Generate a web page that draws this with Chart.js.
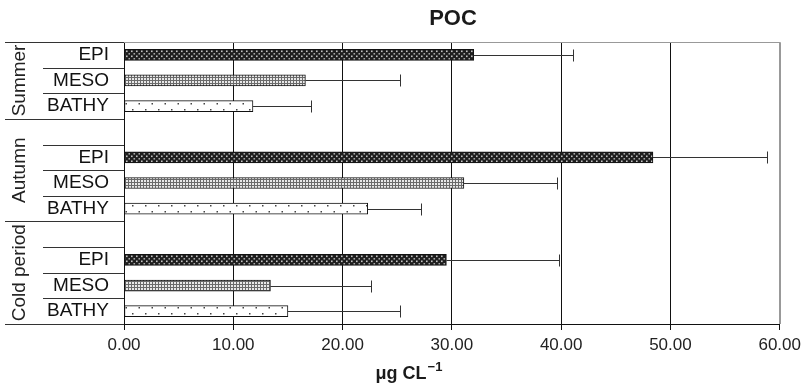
<!DOCTYPE html>
<html>
<head>
<meta charset="utf-8">
<title>POC</title>
<script src="https://cdn.jsdelivr.net/npm/chart.js@4.4.1/dist/chart.umd.min.js"></script>
<style>
  html, body { margin: 0; padding: 0; background: #fff; }
  canvas { display: block; }
</style>
</head>
<body>
<canvas id="pocChart" width="806" height="390"></canvas>
<script>
// rows of the bar chart, top to bottom ('' = spacer row)
const rowLabels = ['EPI', 'MESO', 'BATHY', '', 'EPI', 'MESO', 'BATHY', '', 'EPI', 'MESO', 'BATHY'];
const pocMean = [32.0, 16.6, 11.8, null, 48.4, 31.1, 22.3, null, 29.5, 13.4, 15.0];
const pocSd = [9.1, 8.7, 5.3, null, 10.4, 8.5, 4.9, null, 10.3, 9.2, 10.3];

// seasons and the rows they cover
const seasonNames = ['Summer', 'Autumn', 'Cold period'];
const seasonFirstRow = [0, 3, 7];
const seasonLastRow = [2, 6, 10];

const xTicks = [0, 10, 20, 30, 40, 50, 60];

const FONT = "'Liberation Sans', Arial, sans-serif";

function makePattern(w, h, draw) {
  const c = document.createElement('canvas');
  c.width = w;
  c.height = h;
  const g = c.getContext('2d');
  draw(g);
  return g.createPattern(c, 'repeat');
}

const fills = {
  EPI: makePattern(10, 5, g => {
    g.fillStyle = '#1e1e1e';
    g.fillRect(0, 0, 10, 5);
    g.fillStyle = '#c4c4c4';
    g.fillRect(1, 0.5, 1.6, 1.6);
    g.fillRect(6, 0.5, 1.6, 1.6);
    g.fillStyle = '#a8a8a8';
    g.fillRect(3.5, 3, 1.6, 1.6);
    g.fillRect(8.5, 3, 1.6, 1.6);
  }),
  MESO: makePattern(3, 3, g => {
    g.fillStyle = '#6a6a6a';
    g.fillRect(0, 0, 3, 3);
    g.fillStyle = '#e8e8e8';
    g.fillRect(0, 0, 2, 2);
  }),
  BATHY: makePattern(13, 12, g => {
    g.fillStyle = '#ffffff';
    g.fillRect(0, 0, 13, 12);
    g.fillStyle = '#444';
    g.fillRect(2, 1, 1.5, 1.5);
    g.fillRect(8.5, 7, 1.5, 1.5);
  })
};

// whiskers, label-area rules, season names, titles and frame
const decorations = {
  id: 'decorations',
  afterDatasetsDraw(chart) {
    const ctx = chart.ctx;
    const x = chart.scales.x;
    const y = chart.scales.y;

    ctx.save();
    ctx.strokeStyle = '#333';
    ctx.lineWidth = 1;
    pocMean.forEach((v, i) => {
      if (v == null) return;
      const yc = Math.round(y.getPixelForValue(i)) + 0.5;
      const x0 = x.getPixelForValue(v);
      const x1 = Math.round(x.getPixelForValue(v + pocSd[i])) + 0.5;
      ctx.beginPath();
      ctx.moveTo(x0, yc);
      ctx.lineTo(x1, yc);
      ctx.moveTo(x1, yc - 6);
      ctx.lineTo(x1, yc + 6);
      ctx.stroke();
    });
    ctx.restore();
  },
  afterDraw(chart) {
    const ctx = chart.ctx;
    const y = chart.scales.y;
    const area = chart.chartArea;
    const half = (y.getPixelForValue(1) - y.getPixelForValue(0)) / 2;

    ctx.save();
    // top and right frame
    ctx.strokeStyle = '#999';
    ctx.lineWidth = 1;
    ctx.beginPath();
    ctx.moveTo(area.left, Math.round(area.top) + 0.5);
    ctx.lineTo(Math.round(area.right) + 0.5, Math.round(area.top) + 0.5);
    ctx.lineTo(Math.round(area.right) + 0.5, area.bottom);
    ctx.stroke();

    // rules between row labels and between seasons
    ctx.strokeStyle = '#333';
    for (let i = 0; i <= rowLabels.length; i++) {
      const yy = Math.round(y.getPixelForValue(i) - half) + 0.5;
      const isSeasonEdge = i === rowLabels.length || seasonFirstRow.includes(i);
      ctx.beginPath();
      ctx.moveTo(isSeasonEdge ? 5 : 43, yy);
      ctx.lineTo(area.left, yy);
      ctx.stroke();
    }

    // season names, rotated
    ctx.fillStyle = '#222';
    ctx.font = '19px ' + FONT;
    ctx.textAlign = 'center';
    ctx.textBaseline = 'middle';
    seasonNames.forEach((name, k) => {
      const top = y.getPixelForValue(seasonFirstRow[k]) - half;
      const bottom = y.getPixelForValue(seasonLastRow[k]) + half;
      ctx.save();
      ctx.translate(19, (top + bottom) / 2);
      ctx.rotate(-Math.PI / 2);
      ctx.fillText(name, 0, 1);
      ctx.restore();
    });

    // chart title
    ctx.font = 'bold 22px ' + FONT;
    ctx.fillStyle = '#1a1a1a';
    ctx.fillText('POC', 453, 19);

    // x axis title with superscript
    const main = 'μg CL';
    const sup = '−1';
    ctx.font = 'bold 18px ' + FONT;
    const wMain = ctx.measureText(main).width;
    ctx.font = 'bold 13px ' + FONT;
    const wSup = ctx.measureText(sup).width;
    const start = 409 - (wMain + wSup + 1) / 2;
    ctx.textAlign = 'left';
    ctx.textBaseline = 'alphabetic';
    ctx.font = 'bold 18px ' + FONT;
    ctx.fillText(main, start, 379);
    ctx.font = 'bold 13px ' + FONT;
    ctx.fillText(sup, start + wMain + 1, 371);
    ctx.restore();
  }
};

new Chart(document.getElementById('pocChart'), {
  type: 'bar',
  data: {
    labels: rowLabels,
    datasets: [{
      data: pocMean,
      backgroundColor: rowLabels.map(r => fills[r] || 'transparent'),
      borderColor: '#111',
      borderWidth: 1,
      borderSkipped: false,
      barThickness: 11
    }]
  },
  options: {
    indexAxis: 'y',
    responsive: false,
    animation: false,
    devicePixelRatio: 1,
    layout: { padding: { top: 42, right: 24, left: 0, bottom: 0 } },
    plugins: {
      legend: { display: false },
      tooltip: { enabled: false },
      title: { display: false }
    },
    scales: {
      x: {
        min: 0,
        max: 60,
        afterBuildTicks: scale => { scale.ticks = xTicks.map(v => ({ value: v })); },
        ticks: {
          callback: v => Number(v).toFixed(2),
          color: '#222',
          font: { family: FONT, size: 17 },
          padding: 5,
          maxRotation: 0
        },
        grid: {
          color: c => (c.tick && c.tick.value === 60 ? '#999' : '#111'),
          tickColor: '#111',
          tickLength: 6,
          lineWidth: 1
        },
        border: { display: true, color: '#111', width: 1 },
        afterFit: scale => { scale.height = 66; }
      },
      y: {
        grid: { display: false, drawTicks: false },
        border: { display: true, color: '#111', width: 1 },
        ticks: {
          color: '#111',
          font: { family: FONT, size: 19 },
          padding: 15,
          autoSkip: false
        },
        afterFit: scale => { scale.width = 124; }
      }
    }
  },
  plugins: [decorations]
});
</script>
</body>
</html>
